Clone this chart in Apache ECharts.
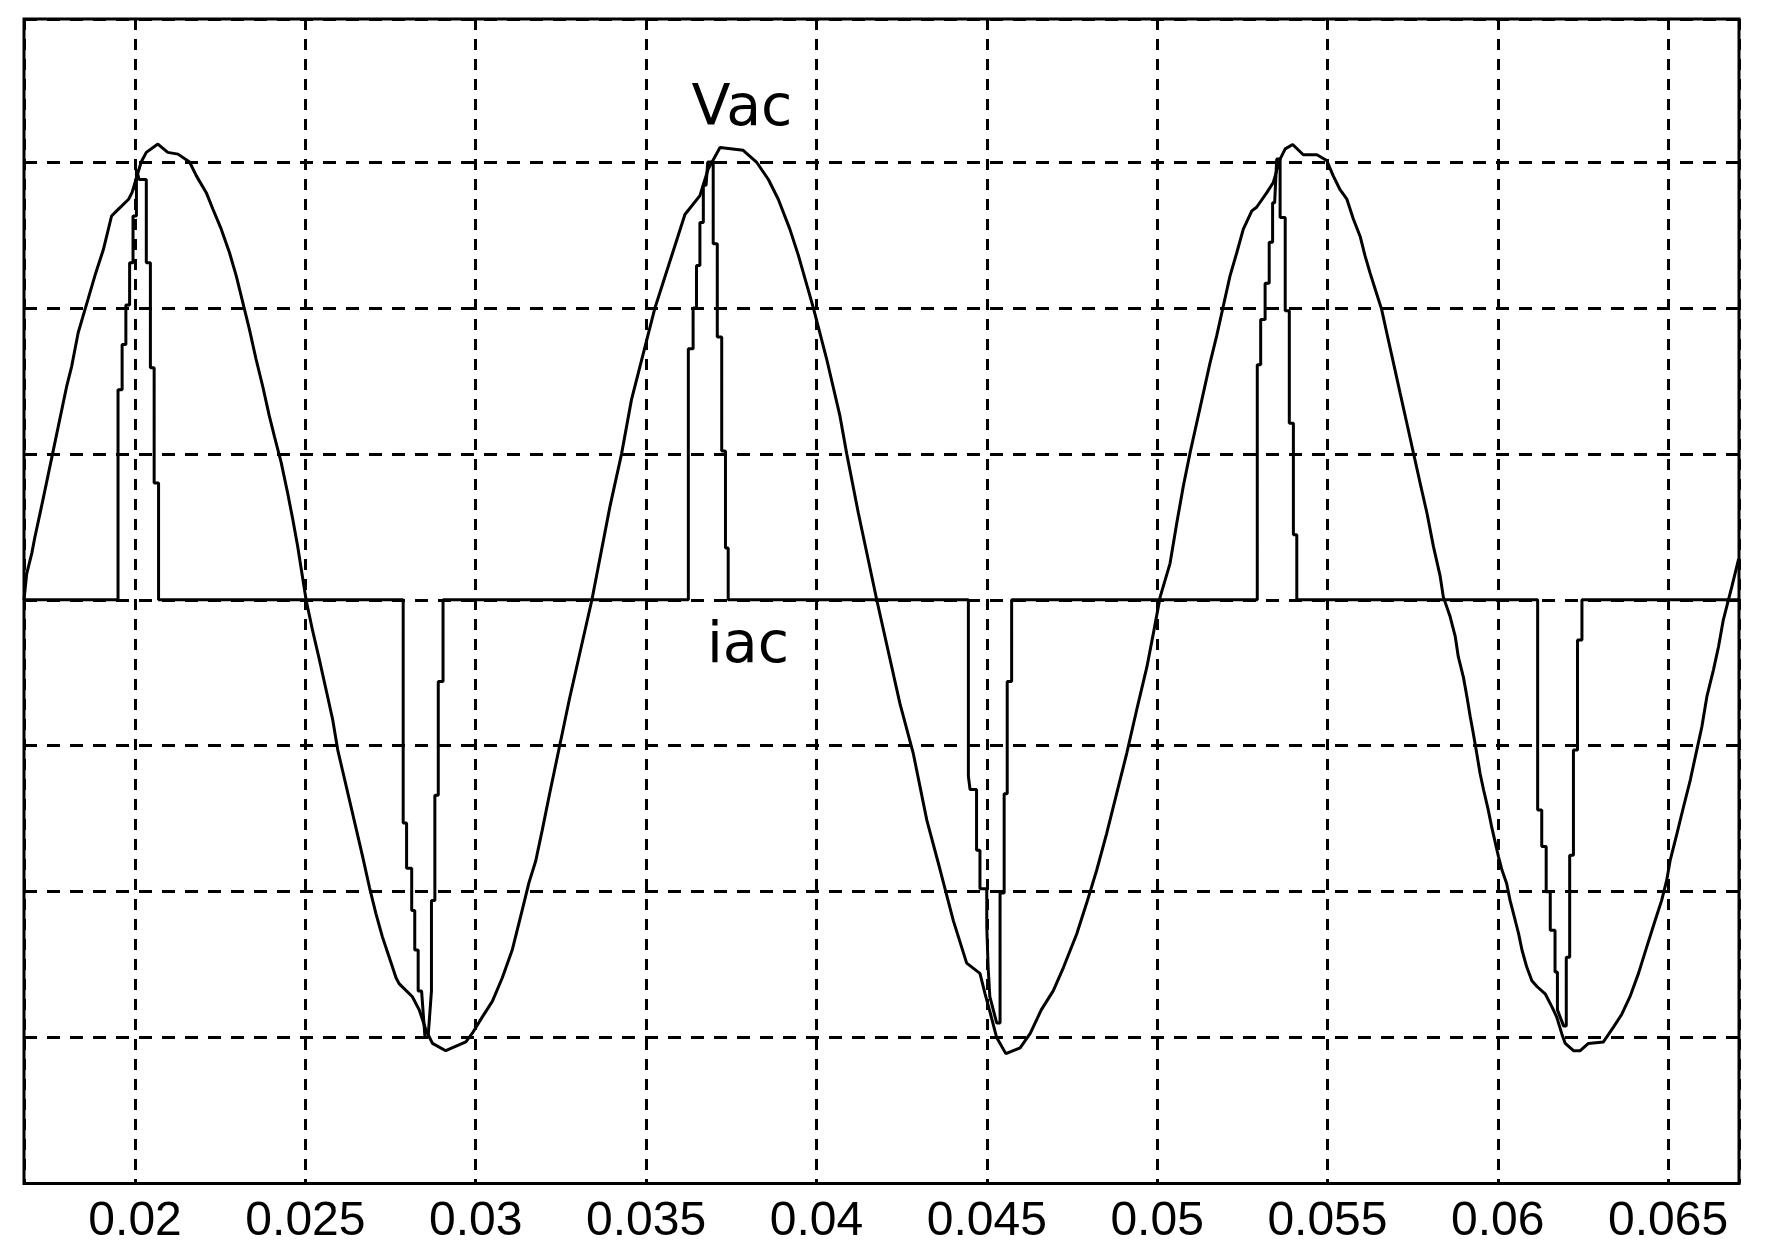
<!DOCTYPE html>
<html>
<head>
<meta charset="utf-8">
<script src="https://cdn.jsdelivr.net/npm/echarts@6/dist/echarts.min.js"></script>
<style>
html,body{margin:0;padding:0;background:#fff;}
#chart{width:1770px;height:1249px;}
</style>
</head>
<body>
<div id="chart"></div>
<script>
// ---- axis extents and tick labels ----
const xRange = [0.01674, 0.06708];
const yRange = [-4, 3.98];
const xTickValues = [0.02, 0.025, 0.03, 0.035, 0.04, 0.045, 0.05, 0.055, 0.06, 0.065];
const xTickLabels = ['0.02', '0.025', '0.03', '0.035', '0.04', '0.045', '0.05', '0.055', '0.06', '0.065'];
const seriesNames = ['Vac', 'iac'];

// ---- Vac: [time, value] ----
const vacCycle1 = [
  [0.01674, 0.0], [0.01682, 0.18], [0.01697, 0.32], [0.01706, 0.43], [0.01719, 0.57], [0.0173, 0.69],
  [0.01799, 1.46], [0.01814, 1.60], [0.01833, 1.83], [0.01862, 2.06], [0.01882, 2.22], [0.01907, 2.40],
  [0.01931, 2.63], [0.01946, 2.665], [0.01981, 2.745], [0.01991, 2.79], [0.02018, 3.00], [0.02033, 3.066],
  [0.02067, 3.123], [0.02096, 3.066], [0.02126, 3.054], [0.0216, 3.0], [0.0218, 2.905], [0.02209, 2.79],
  [0.02228, 2.68], [0.02253, 2.54], [0.02277, 2.38], [0.02297, 2.22], [0.02316, 2.04], [0.02336, 1.85],
  [0.02355, 1.65], [0.02375, 1.46], [0.02394, 1.26], [0.02409, 1.12], [0.02429, 0.94], [0.02448, 0.73],
  [0.02463, 0.55], [0.02477, 0.37], [0.02502, 0.0], [0.02521, -0.21], [0.02541, -0.41], [0.02561, -0.62],
  [0.0258, -0.82], [0.02595, -1.03], [0.02609, -1.17], [0.02629, -1.37], [0.02648, -1.56], [0.02668, -1.76],
  [0.02688, -1.97], [0.02707, -2.15], [0.02726, -2.31], [0.02746, -2.45], [0.02766, -2.59], [0.02775, -2.63],
  [0.02814, -2.72], [0.02834, -2.81], [0.02854, -2.95], [0.02873, -3.04], [0.02912, -3.09], [0.02971, -3.03],
  [0.0299, -2.97], [0.03019, -2.86], [0.03049, -2.75], [0.03078, -2.59], [0.03107, -2.40], [0.03136, -2.13],
  [0.03156, -1.94], [0.03176, -1.79], [0.03195, -1.58], [0.03215, -1.35], [0.03275, -0.68]
];
const vacCycle2 = [
  [0.03341, 0.0], [0.03394, 0.64], [0.03428, 1.0], [0.03457, 1.37], [0.03526, 2.0], [0.03614, 2.64],
  [0.03658, 2.77], [0.03682, 2.95], [0.03717, 3.10], [0.03785, 3.08], [0.03824, 3.0], [0.03859, 2.88],
  [0.03888, 2.745], [0.03922, 2.54], [0.03947, 2.36], [0.03991, 2.0], [0.0403, 1.65], [0.04069, 1.26],
  [0.04089, 1.0], [0.04123, 0.595], [0.04177, 0.0], [0.04245, -0.71], [0.04284, -1.05], [0.04324, -1.51],
  [0.04363, -1.85], [0.04402, -2.20], [0.04441, -2.49], [0.0448, -2.56], [0.04495, -2.70], [0.04509, -2.82],
  [0.04529, -3.0], [0.04556, -3.11], [0.04598, -3.07], [0.04628, -2.97], [0.0466, -2.81], [0.04695, -2.68],
  [0.04725, -2.52], [0.04764, -2.29], [0.04793, -2.08], [0.04823, -1.85], [0.04852, -1.60], [0.04881, -1.33],
  [0.04911, -1.05], [0.0494, -0.755], [0.0497, -0.46], [0.04989, -0.23]
];
const vacCycle3 = [
  [0.05009, 0.02], [0.05038, 0.25], [0.05058, 0.53], [0.05077, 0.78], [0.05097, 1.01], [0.05116, 1.21],
  [0.05136, 1.42], [0.05155, 1.62], [0.05175, 1.81], [0.05194, 2.01], [0.05214, 2.22], [0.05234, 2.38],
  [0.05253, 2.54], [0.05278, 2.665], [0.05292, 2.69], [0.05322, 2.79], [0.05341, 2.86], [0.05361, 3.02],
  [0.05376, 3.09], [0.05398, 3.12], [0.05429, 3.05], [0.05469, 3.05], [0.05498, 3.01], [0.05517, 2.905],
  [0.05537, 2.81], [0.05557, 2.745], [0.05576, 2.61], [0.05596, 2.49], [0.0561, 2.36], [0.05625, 2.24],
  [0.0564, 2.13], [0.05659, 1.99], [0.05674, 1.83], [0.05694, 1.62], [0.05713, 1.42], [0.05733, 1.21],
  [0.05752, 1.01], [0.05772, 0.80], [0.05792, 0.595], [0.05811, 0.366], [0.05831, 0.16], [0.0584, 0.02],
  [0.0586, -0.115], [0.05875, -0.25], [0.05884, -0.39], [0.05899, -0.53], [0.05909, -0.66], [0.05919, -0.80],
  [0.05928, -0.915], [0.05938, -1.05], [0.05948, -1.19], [0.05958, -1.30], [0.05972, -1.44], [0.05982, -1.556],
  [0.06002, -1.76], [0.06012, -1.85], [0.06026, -1.944], [0.06036, -2.06], [0.06051, -2.196], [0.06061, -2.288],
  [0.06071, -2.40], [0.06085, -2.517], [0.061, -2.61], [0.06115, -2.65], [0.06139, -2.70], [0.06159, -2.79],
  [0.06173, -2.86], [0.06188, -2.975], [0.06198, -3.04], [0.06222, -3.09], [0.06242, -3.09], [0.06266, -3.04],
  [0.0631, -3.03], [0.06339, -2.93], [0.06364, -2.84], [0.06388, -2.72], [0.06413, -2.56], [0.06437, -2.38],
  [0.06462, -2.196], [0.06481, -2.06], [0.06496, -1.92], [0.06506, -1.785], [0.06526, -1.60], [0.06545, -1.42],
  [0.06565, -1.235], [0.06584, -1.03], [0.06599, -0.87], [0.06614, -0.66], [0.06633, -0.48], [0.06648, -0.32],
  [0.06662, -0.137], [0.06677, 0.0], [0.06687, 0.09], [0.06707, 0.28]
];

// ---- iac current pulses: [time, value] ----
const iacPulse1Pos = [
  [0.0195, 0], [0.0195, 1.44], [0.01962, 1.44], [0.01962, 1.75], [0.01973, 1.75], [0.01973, 2.02],
  [0.01984, 2.02], [0.01984, 2.31], [0.01994, 2.31], [0.01994, 2.63], [0.02004, 2.63], [0.02004, 2.95],
  [0.02012, 2.88], [0.02033, 2.88], [0.02033, 2.31], [0.02045, 2.31], [0.02045, 1.59], [0.02056, 1.59],
  [0.02056, 0.80], [0.02069, 0.80], [0.02069, 0]
];
const iacPulse1Neg = [
  [0.02787, 0], [0.02787, -1.53], [0.02797, -1.53], [0.02797, -1.84], [0.02812, -1.84], [0.02812, -2.13],
  [0.02821, -2.13], [0.02821, -2.40], [0.02831, -2.40], [0.02831, -2.68], [0.02841, -2.68], [0.02851, -3.0],
  [0.0286, -3.0], [0.0287, -2.68], [0.0287, -2.06], [0.0288, -2.06], [0.0288, -1.34], [0.0289, -1.34],
  [0.0289, -0.56], [0.02904, -0.56], [0.02904, 0]
];
const iacPulse2Pos = [
  [0.03624, 0], [0.03624, 1.72], [0.03638, 1.72], [0.03638, 2.0], [0.03648, 2.0], [0.03648, 2.29],
  [0.03658, 2.29], [0.03658, 2.585], [0.03668, 2.585], [0.03668, 2.84], [0.03676, 2.84], [0.03681, 3.0],
  [0.03697, 3.0], [0.03697, 2.44], [0.03709, 2.44], [0.03709, 1.80], [0.03722, 1.80], [0.03722, 1.02],
  [0.03733, 1.02], [0.03733, 0.355], [0.03741, 0.355], [0.03741, 0]
];
const iacPulse2Neg = [
  [0.04446, 0], [0.04446, -1.21], [0.04451, -1.30], [0.0447, -1.30], [0.0447, -1.716], [0.0448, -1.716],
  [0.0448, -1.98], [0.045, -1.98], [0.045, -2.24], [0.04504, -2.24], [0.04504, -2.52], [0.04509, -2.52],
  [0.04509, -2.72], [0.04529, -2.9], [0.04539, -2.9], [0.04539, -2.01], [0.04551, -2.01], [0.04551, -1.33],
  [0.0456, -1.33], [0.0456, -0.56], [0.04573, -0.56], [0.04573, 0]
];
const iacPulse3Pos = [
  [0.05294, 0], [0.05294, 1.61], [0.05304, 1.61], [0.05304, 1.92], [0.05317, 1.92], [0.05317, 2.17],
  [0.05329, 2.17], [0.05329, 2.45], [0.05339, 2.45], [0.05339, 2.72], [0.05345, 2.72], [0.05351, 3.02],
  [0.05361, 3.02], [0.05361, 2.62], [0.05376, 2.62], [0.05376, 1.98], [0.05388, 1.98], [0.05388, 1.21],
  [0.054, 1.21], [0.054, 0.446], [0.0541, 0.446], [0.0541, 0]
];
const iacPulse3Neg = [
  [0.06117, 0], [0.06117, -1.44], [0.06129, -1.44], [0.06129, -1.69], [0.06142, -1.69], [0.06142, -2.0],
  [0.06154, -2.0], [0.06154, -2.265], [0.06168, -2.265], [0.06168, -2.55], [0.06175, -2.55], [0.06175, -2.81],
  [0.06193, -2.92], [0.06201, -2.92], [0.06201, -2.45], [0.06211, -2.45], [0.06211, -1.75], [0.06222, -1.75],
  [0.06222, -1.03], [0.06234, -1.03], [0.06234, -0.275], [0.06247, -0.275], [0.06247, 0]
];

const vacData = [].concat(vacCycle1, vacCycle2, vacCycle3);
const iacData = [].concat([[xRange[0], 0]], iacPulse1Pos, iacPulse1Neg, iacPulse2Pos, iacPulse2Neg,
  iacPulse3Pos, iacPulse3Neg, [[xRange[1], 0]]);

const chart = echarts.init(document.getElementById('chart'), null, {renderer: 'canvas'});
const option = {
  animation: false,
  backgroundColor: '#ffffff',
  grid: {
    left: 24, right: 31, top: 19, bottom: 65.5,
    show: true, borderColor: '#000', borderWidth: 3, backgroundColor: 'transparent'
  },
  xAxis: {
    type: 'value', min: xRange[0], max: xRange[1], splitNumber: 10,
    axisLine: {show: false}, axisTick: {show: false},
    axisLabel: {
      show: true, showMinLabel: false, showMaxLabel: false, margin: 14,
      color: '#000', fontSize: 48, fontFamily: '"Liberation Sans", Arial, sans-serif',
      formatter: function (v) {
        const i = xTickValues.findIndex(function (x) { return Math.abs(x - v) < 1e-9; });
        return i >= 0 ? xTickLabels[i] : '';
      }
    },
    splitLine: {show: true, lineStyle: {color: '#000', width: 3, type: [11, 9]}}
  },
  yAxis: {
    type: 'value', min: yRange[0], max: yRange[1], interval: 1,
    axisLine: {show: false}, axisTick: {show: false}, axisLabel: {show: false},
    splitLine: {show: true, lineStyle: {color: '#000', width: 3, type: [13, 10]}}
  },
  graphic: [
    {type: 'text', x: 742, y: 110, z: 100,
     style: {text: 'Vac', fill: '#000', font: '57px "DejaVu Sans", sans-serif', align: 'center', verticalAlign: 'middle', textAlign: 'center', textVerticalAlign: 'middle'}},
    {type: 'text', x: 748, y: 647, z: 100,
     style: {text: 'iac', fill: '#000', font: '57px "DejaVu Sans", sans-serif', align: 'center', verticalAlign: 'middle', textAlign: 'center', textVerticalAlign: 'middle'}}
  ],
  series: [
    {name: seriesNames[0], type: 'line', data: vacData, showSymbol: false, symbol: 'none', smooth: false,
     lineStyle: {color: '#000', width: 3}, clip: true, z: 3},
    {name: seriesNames[1], type: 'line', data: iacData, showSymbol: false, symbol: 'none', smooth: false,
     lineStyle: {color: '#000', width: 3}, clip: true, z: 4}
  ]
};
chart.setOption(option);
</script>
</body>
</html>
